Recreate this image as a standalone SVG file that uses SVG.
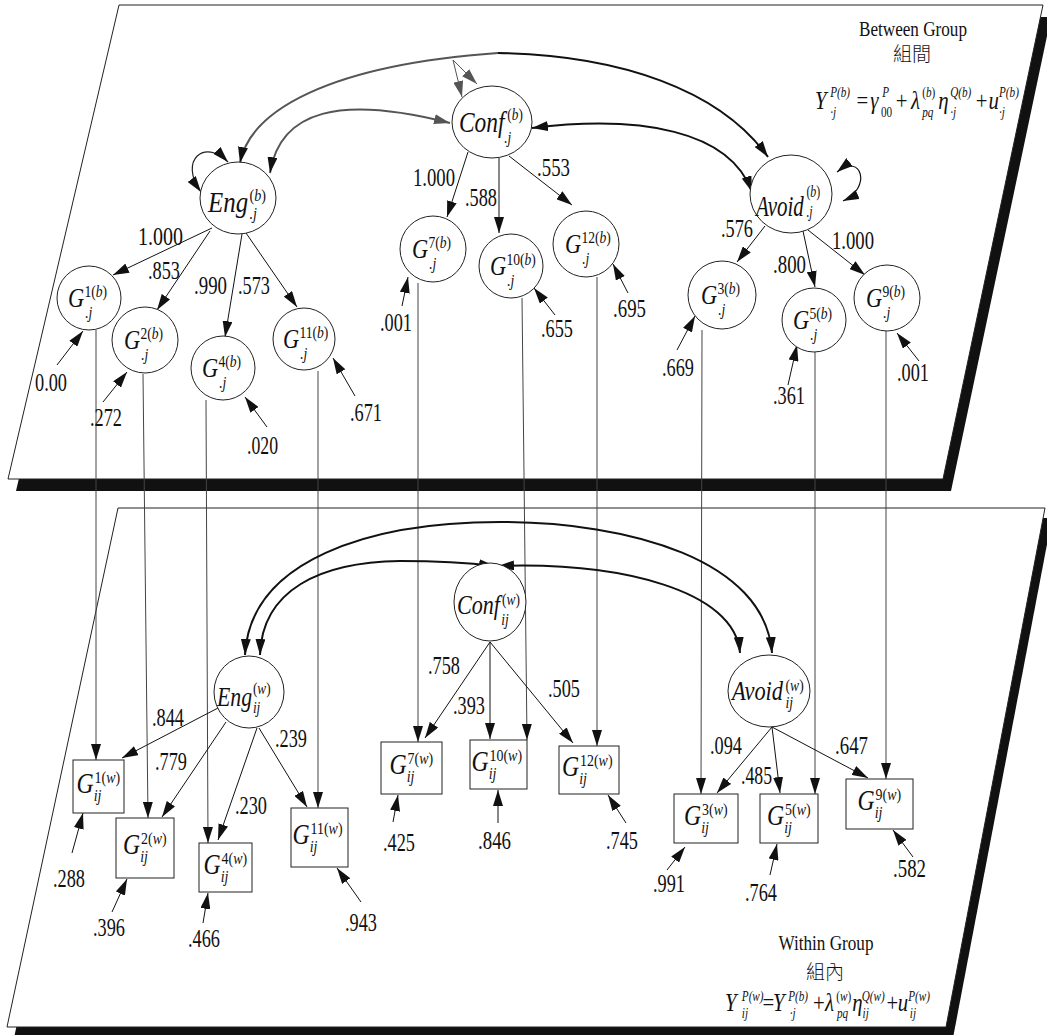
<svg xmlns="http://www.w3.org/2000/svg" width="1047" height="1035" viewBox="0 0 1047 1035">
<defs>
<marker id="ah" viewBox="0 0 16 10" refX="16" refY="5" markerWidth="16" markerHeight="10" markerUnits="userSpaceOnUse" orient="auto-start-reverse"><path d="M0,0 L16,5 L0,10 z" fill="#111"/></marker>
<marker id="ahg" viewBox="0 0 16 10" refX="16" refY="5" markerWidth="16" markerHeight="10" markerUnits="userSpaceOnUse" orient="auto-start-reverse"><path d="M0,0 L16,5 L0,10 z" fill="#555"/></marker>
<style>
.n{fill:#fff;stroke:#222;stroke-width:1}
.l{stroke:#111;stroke-width:1;fill:none;marker-end:url(#ah)}
.v{stroke:#444;stroke-width:1;fill:none;marker-end:url(#ah)}
.c{stroke:#111;stroke-width:2;fill:none;marker-start:url(#ah);marker-end:url(#ah)}
.cg{stroke:#555;stroke-width:2;fill:none}
text{font-family:"Liberation Serif","Times New Roman",serif;fill:#111}
.num{font-size:25px}
.i{font-style:italic}
.b{font-size:30px;font-style:italic}
.bw{font-size:28px;font-style:italic}
.g{font-size:28px;font-style:italic}
.gw{font-size:29px;font-style:italic}
.s{font-size:17px}
.f{font-size:26px}
.fs{font-size:14px}
.cjk{font-family:"Liberation Serif","Noto Sans CJK TC",serif;font-size:19px;font-weight:300}
</style>
</defs>

<g id="panels">
<polygon points="127,17 1051,17 951,491 16,491" fill="#111"/>
<polygon points="119,5 1043,5 943,479 8,479" fill="#fff" stroke="#222" stroke-width="1"/>
<polygon points="125,518 1052,518 953,1038 14,1038" fill="#111"/>
<polygon points="118,508 1045,508 946,1027 7,1027" fill="#fff" stroke="#222" stroke-width="1"/>
</g>

<g id="connectors">
<path class="v" d="M96,330 L96,760"/>
<path class="v" d="M143,374 L148,818"/>
<path class="v" d="M206,400 L208,843"/>
<path class="v" d="M318,371 L318,808"/>
<path class="v" d="M418,283 L418,742"/>
<path class="v" d="M522,298 L527,740"/>
<path class="v" d="M597,277 L597,746"/>
<path class="v" d="M702,330 L701,794"/>
<path class="v" d="M815,352 L815,794"/>
<path class="v" d="M886,331 L886,779"/>
<path class="cg" d="M240,163 C250,110 330,65 498,53" marker-start="url(#ah)"/>
<path class="c" d="M498,53 C620,55 720,90 768,157" style="marker-start:none"/>
<path class="cg" d="M270,173 C280,110 340,95 450,123" marker-start="url(#ah)" marker-end="url(#ahg)"/>
<path class="c" d="M532,128 C640,115 730,130 752,192"/>
<path class="cg" d="M228,162 C205,138 178,160 201,192" marker-start="url(#ah)" marker-end="url(#ah)" style="stroke:#222;stroke-width:1.2"/>
<path class="cg" d="M462,97 L453,60 L477,84" marker-start="url(#ahg)" marker-end="url(#ahg)" style="stroke-width:1"/>
<path class="c" d="M837,172 C862,152 872,188 843,201" style="stroke-width:1.2"/>
<path class="l" d="M212,228 L113,275"/>
<path class="l" d="M210,231 L157,310"/>
<path class="l" d="M242,234 L225,337"/>
<path class="l" d="M246,233 L297,307"/>
<path class="l" d="M468,152 L447,217"/>
<path class="l" d="M499,158 L499,233"/>
<path class="l" d="M509,156 L572,205"/>
<path class="l" d="M765,226 L737,262"/>
<path class="l" d="M803,231 L815,287"/>
<path class="l" d="M808,230 L865,275"/>
<path class="l" d="M57,365 L83,331"/>
<path class="l" d="M103,402 L127,372"/>
<path class="l" d="M267,427 L245,397"/>
<path class="l" d="M355,396 L333,358"/>
<path class="l" d="M402,306 L408,277"/>
<path class="l" d="M555,315 L534,288"/>
<path class="l" d="M628,293 L613,264"/>
<path class="l" d="M677,350 L695,316"/>
<path class="l" d="M788,385 L797,345"/>
<path class="l" d="M919,361 L897,333"/>
<path class="c" d="M245,655 C250,560 370,522 500,522 C630,522 765,560 772,653"/>
<path class="c" d="M260,655 C262,590 320,562 400,561 C440,561 470,563 495,566"/>
<path class="c" d="M498,566 C620,562 735,590 740,653"/>
<path class="l" d="M218,708 L122,758"/>
<path class="l" d="M226,722 L162,817"/>
<path class="l" d="M257,728 L218,840"/>
<path class="l" d="M259,728 L307,807"/>
<path class="l" d="M490,642 L425,738"/>
<path class="l" d="M490,642 L490,739"/>
<path class="l" d="M490,642 L573,743"/>
<path class="l" d="M772,727 L717,793"/>
<path class="l" d="M772,727 L780,793"/>
<path class="l" d="M772,727 L868,778"/>
<path class="l" d="M72,853 L83,813"/>
<path class="l" d="M112,912 L127,879"/>
<path class="l" d="M203,923 L208,893"/>
<path class="l" d="M361,902 L337,868"/>
<path class="l" d="M393,822 L398,795"/>
<path class="l" d="M498,823 L498,790"/>
<path class="l" d="M626,823 L608,795"/>
<path class="l" d="M667,870 L685,847"/>
<path class="l" d="M770,875 L777,844"/>
<path class="l" d="M913,857 L893,830"/>
</g>

<g id="labels">
<text class="num" x="138" y="245" textLength="45" lengthAdjust="spacingAndGlyphs">1.000</text>
<text class="num" x="148" y="279" textLength="32" lengthAdjust="spacingAndGlyphs">.853</text>
<text class="num" x="194" y="294" textLength="33" lengthAdjust="spacingAndGlyphs">.990</text>
<text class="num" x="238" y="294" textLength="32" lengthAdjust="spacingAndGlyphs">.573</text>
<text class="num" x="35" y="391" textLength="32" lengthAdjust="spacingAndGlyphs">0.00</text>
<text class="num" x="90" y="426" textLength="32" lengthAdjust="spacingAndGlyphs">.272</text>
<text class="num" x="247" y="454" textLength="31" lengthAdjust="spacingAndGlyphs">.020</text>
<text class="num" x="350" y="421" textLength="32" lengthAdjust="spacingAndGlyphs">.671</text>
<text class="num" x="413" y="186" textLength="42" lengthAdjust="spacingAndGlyphs">1.000</text>
<text class="num" x="465" y="206" textLength="32" lengthAdjust="spacingAndGlyphs">.588</text>
<text class="num" x="537" y="176" textLength="33" lengthAdjust="spacingAndGlyphs">.553</text>
<text class="num" x="380" y="331" textLength="32" lengthAdjust="spacingAndGlyphs">.001</text>
<text class="num" x="541" y="337" textLength="32" lengthAdjust="spacingAndGlyphs">.655</text>
<text class="num" x="613" y="317" textLength="33" lengthAdjust="spacingAndGlyphs">.695</text>
<text class="num" x="721" y="237" textLength="32" lengthAdjust="spacingAndGlyphs">.576</text>
<text class="num" x="773" y="273" textLength="33" lengthAdjust="spacingAndGlyphs">.800</text>
<text class="num" x="832" y="249" textLength="42" lengthAdjust="spacingAndGlyphs">1.000</text>
<text class="num" x="662" y="376" textLength="32" lengthAdjust="spacingAndGlyphs">.669</text>
<text class="num" x="773" y="404" textLength="32" lengthAdjust="spacingAndGlyphs">.361</text>
<text class="num" x="897" y="381" textLength="32" lengthAdjust="spacingAndGlyphs">.001</text>
<text class="num" x="152" y="726" textLength="32" lengthAdjust="spacingAndGlyphs">.844</text>
<text class="num" x="155" y="770" textLength="32" lengthAdjust="spacingAndGlyphs">.779</text>
<text class="num" x="235" y="814" textLength="32" lengthAdjust="spacingAndGlyphs">.230</text>
<text class="num" x="275" y="747" textLength="32" lengthAdjust="spacingAndGlyphs">.239</text>
<text class="num" x="428" y="674" textLength="32" lengthAdjust="spacingAndGlyphs">.758</text>
<text class="num" x="453" y="714" textLength="32" lengthAdjust="spacingAndGlyphs">.393</text>
<text class="num" x="548" y="697" textLength="32" lengthAdjust="spacingAndGlyphs">.505</text>
<text class="num" x="710" y="754" textLength="32" lengthAdjust="spacingAndGlyphs">.094</text>
<text class="num" x="741" y="784" textLength="31" lengthAdjust="spacingAndGlyphs">.485</text>
<text class="num" x="835" y="754" textLength="33" lengthAdjust="spacingAndGlyphs">.647</text>
<text class="num" x="53" y="887" textLength="32" lengthAdjust="spacingAndGlyphs">.288</text>
<text class="num" x="93" y="936" textLength="32" lengthAdjust="spacingAndGlyphs">.396</text>
<text class="num" x="188" y="947" textLength="32" lengthAdjust="spacingAndGlyphs">.466</text>
<text class="num" x="345" y="931" textLength="32" lengthAdjust="spacingAndGlyphs">.943</text>
<text class="num" x="383" y="851" textLength="32" lengthAdjust="spacingAndGlyphs">.425</text>
<text class="num" x="478" y="849" textLength="33" lengthAdjust="spacingAndGlyphs">.846</text>
<text class="num" x="606" y="849" textLength="32" lengthAdjust="spacingAndGlyphs">.745</text>
<text class="num" x="653" y="892" textLength="32" lengthAdjust="spacingAndGlyphs">.991</text>
<text class="num" x="745" y="901" textLength="32" lengthAdjust="spacingAndGlyphs">.764</text>
<text class="num" x="893" y="877" textLength="33" lengthAdjust="spacingAndGlyphs">.582</text>
</g>

<g id="Eng_b"><ellipse class="n" cx="238" cy="198" rx="38" ry="36"/><text transform="translate(208,212) scale(0.83,1)"><tspan class="b" x="0" y="0">Eng</tspan><tspan class="s" x="50" y="-11">(<tspan class="i">b</tspan>)</tspan><tspan class="s i" x="50" y="7">.j</tspan></text></g>
<g id="Conf_b"><ellipse class="n" cx="492" cy="122" rx="40" ry="36"/><text transform="translate(459,132) scale(0.78,1)" fill="#333"><tspan class="b" x="0" y="0">Conf</tspan><tspan class="s" x="62" y="-12">(<tspan class="i">b</tspan>)</tspan><tspan class="s i" x="58" y="11">.j</tspan></text></g>
<g id="Avoid_b"><ellipse class="n" cx="791" cy="194" rx="41" ry="39"/><text transform="translate(756,216) scale(0.7,1)"><tspan class="b" x="0" y="0">Avoid</tspan><tspan class="s" x="72" y="-19">(<tspan class="i">b</tspan>)</tspan><tspan class="s i" x="72" y="1">.j</tspan></text></g>

<g id="G1b"><circle class="n" cx="89" cy="298" r="32"/><text transform="translate(68,307) scale(0.8,1)"><tspan class="g" x="0" y="0">G</tspan><tspan class="s" x="20.5" y="-10">1(<tspan class="i">b</tspan>)</tspan><tspan class="s i" x="21.5" y="11">.j</tspan></text></g>
<g id="G2b"><circle class="n" cx="145" cy="340" r="33"/><text transform="translate(124,349) scale(0.8,1)"><tspan class="g" x="0" y="0">G</tspan><tspan class="s" x="20.5" y="-10">2(<tspan class="i">b</tspan>)</tspan><tspan class="s i" x="21.5" y="11">.j</tspan></text></g>
<g id="G4b"><circle class="n" cx="223" cy="368" r="32"/><text transform="translate(202,377) scale(0.8,1)"><tspan class="g" x="0" y="0">G</tspan><tspan class="s" x="20.5" y="-10">4(<tspan class="i">b</tspan>)</tspan><tspan class="s i" x="21.5" y="11">.j</tspan></text></g>
<g id="G11b"><circle class="n" cx="304" cy="339" r="31"/><text transform="translate(283,348) scale(0.8,1)"><tspan class="g" x="0" y="0">G</tspan><tspan class="s" x="20.5" y="-10">11(<tspan class="i">b</tspan>)</tspan><tspan class="s i" x="21.5" y="11">.j</tspan></text></g>
<g id="G7b"><circle class="n" cx="433" cy="249" r="33"/><text transform="translate(412,258) scale(0.8,1)"><tspan class="g" x="0" y="0">G</tspan><tspan class="s" x="20.5" y="-10">7(<tspan class="i">b</tspan>)</tspan><tspan class="s i" x="21.5" y="11">.j</tspan></text></g>
<g id="G10b"><circle class="n" cx="511" cy="266" r="32"/><text transform="translate(490,275) scale(0.8,1)"><tspan class="g" x="0" y="0">G</tspan><tspan class="s" x="20.5" y="-10">10(<tspan class="i">b</tspan>)</tspan><tspan class="s i" x="21.5" y="11">.j</tspan></text></g>
<g id="G12b"><circle class="n" cx="586" cy="244" r="33"/><text transform="translate(565,253) scale(0.8,1)"><tspan class="g" x="0" y="0">G</tspan><tspan class="s" x="20.5" y="-10">12(<tspan class="i">b</tspan>)</tspan><tspan class="s i" x="21.5" y="11">.j</tspan></text></g>
<g id="G3b"><circle class="n" cx="722" cy="295" r="34"/><text transform="translate(701,304) scale(0.8,1)"><tspan class="g" x="0" y="0">G</tspan><tspan class="s" x="20.5" y="-10">3(<tspan class="i">b</tspan>)</tspan><tspan class="s i" x="21.5" y="11">.j</tspan></text></g>
<g id="G5b"><circle class="n" cx="814" cy="320" r="32"/><text transform="translate(793,329) scale(0.8,1)"><tspan class="g" x="0" y="0">G</tspan><tspan class="s" x="20.5" y="-10">5(<tspan class="i">b</tspan>)</tspan><tspan class="s i" x="21.5" y="11">.j</tspan></text></g>
<g id="G9b"><circle class="n" cx="887" cy="298" r="33"/><text transform="translate(866,307) scale(0.8,1)"><tspan class="g" x="0" y="0">G</tspan><tspan class="s" x="20.5" y="-10">9(<tspan class="i">b</tspan>)</tspan><tspan class="s i" x="21.5" y="11">.j</tspan></text></g>

<g id="Eng_w"><ellipse class="n" cx="249" cy="692" rx="35" ry="36"/><text transform="translate(217,706) scale(0.78,1)"><tspan class="bw" x="0" y="0">Eng</tspan><tspan class="s" x="46" y="-12">(<tspan class="i">w</tspan>)</tspan><tspan class="s i" x="46" y="7">ij</tspan></text></g>
<g id="Conf_w"><ellipse class="n" cx="490" cy="602" rx="36" ry="39"/><text transform="translate(457,614) scale(0.79,1)"><tspan class="bw" x="0" y="0">Conf</tspan><tspan class="s" x="57" y="-9">(<tspan class="i">w</tspan>)</tspan><tspan class="s i" x="56" y="11">ij</tspan></text></g>
<g id="Avoid_w"><ellipse class="n" cx="769" cy="691" rx="41" ry="36"/><text transform="translate(732,700) scale(0.8,1)"><tspan class="bw" x="0" y="0">Avoid</tspan><tspan class="s" x="67" y="-9">(<tspan class="i">w</tspan>)</tspan><tspan class="s i" x="67" y="8">ij</tspan></text></g>

<g id="G1w"><rect class="n" x="73" y="760" width="51" height="53"/><text transform="translate(76.5,792.5) scale(0.82,1)"><tspan class="gw" x="0" y="0">G</tspan><tspan class="s" x="22" y="-10">1(<tspan class="i">w</tspan>)</tspan><tspan class="s i" x="21" y="8">ij</tspan></text></g>
<g id="G2w"><rect class="n" x="116" y="818" width="58" height="60"/><text transform="translate(123,854) scale(0.82,1)"><tspan class="gw" x="0" y="0">G</tspan><tspan class="s" x="22" y="-10">2(<tspan class="i">w</tspan>)</tspan><tspan class="s i" x="21" y="8">ij</tspan></text></g>
<g id="G4w"><rect class="n" x="199" y="843" width="53" height="49"/><text transform="translate(203.5,873.5) scale(0.82,1)"><tspan class="gw" x="0" y="0">G</tspan><tspan class="s" x="22" y="-10">4(<tspan class="i">w</tspan>)</tspan><tspan class="s i" x="21" y="8">ij</tspan></text></g>
<g id="G11w"><rect class="n" x="291" y="808" width="57" height="59"/><text transform="translate(292.5,843.5) scale(0.82,1)"><tspan class="gw" x="0" y="0">G</tspan><tspan class="s" x="22" y="-10">11(<tspan class="i">w</tspan>)</tspan><tspan class="s i" x="21" y="8">ij</tspan></text></g>
<g id="G7w"><rect class="n" x="381" y="742" width="61" height="52"/><text transform="translate(389.5,774) scale(0.82,1)"><tspan class="gw" x="0" y="0">G</tspan><tspan class="s" x="22" y="-10">7(<tspan class="i">w</tspan>)</tspan><tspan class="s i" x="21" y="8">ij</tspan></text></g>
<g id="G10w"><rect class="n" x="470" y="740" width="57" height="49"/><text transform="translate(471.5,770.5) scale(0.82,1)"><tspan class="gw" x="0" y="0">G</tspan><tspan class="s" x="22" y="-10">10(<tspan class="i">w</tspan>)</tspan><tspan class="s i" x="21" y="8">ij</tspan></text></g>
<g id="G12w"><rect class="n" x="559" y="746" width="60" height="48"/><text transform="translate(562,776) scale(0.82,1)"><tspan class="gw" x="0" y="0">G</tspan><tspan class="s" x="22" y="-10">12(<tspan class="i">w</tspan>)</tspan><tspan class="s i" x="21" y="8">ij</tspan></text></g>
<g id="G3w"><rect class="n" x="674" y="794" width="64" height="49"/><text transform="translate(684,824.5) scale(0.82,1)"><tspan class="gw" x="0" y="0">G</tspan><tspan class="s" x="22" y="-10">3(<tspan class="i">w</tspan>)</tspan><tspan class="s i" x="21" y="8">ij</tspan></text></g>
<g id="G5w"><rect class="n" x="760" y="794" width="58" height="49"/><text transform="translate(767,824.5) scale(0.82,1)"><tspan class="gw" x="0" y="0">G</tspan><tspan class="s" x="22" y="-10">5(<tspan class="i">w</tspan>)</tspan><tspan class="s i" x="21" y="8">ij</tspan></text></g>
<g id="G9w"><rect class="n" x="846" y="779" width="67" height="50"/><text transform="translate(857.5,810) scale(0.82,1)"><tspan class="gw" x="0" y="0">G</tspan><tspan class="s" x="22" y="-10">9(<tspan class="i">w</tspan>)</tspan><tspan class="s i" x="21" y="8">ij</tspan></text></g>

<g id="between_title">
<text x="913" y="36" font-size="20" text-anchor="middle" textLength="108" lengthAdjust="spacingAndGlyphs">Between Group</text>
<text class="cjk" x="912" y="61" text-anchor="middle">組間</text>
<text transform="translate(815,109) scale(0.8,1)"><tspan class="f i" x="0" y="0">Y</tspan><tspan class="fs i" x="19" y="-12">P(b)</tspan><tspan class="fs i" x="19" y="8">·j</tspan><tspan class="f" x="52" y="0">=</tspan><tspan class="f i" x="69" y="0">γ</tspan><tspan class="fs i" x="84" y="-12">P</tspan><tspan class="fs" x="82.5" y="8">00</tspan><tspan class="f" x="101" y="0">+</tspan><tspan class="f i" x="120" y="0">λ</tspan><tspan class="fs" x="134" y="-12">(<tspan class="i">b</tspan>)</tspan><tspan class="fs i" x="134" y="8">pq</tspan><tspan class="f i" x="154" y="0">η</tspan><tspan class="fs i" x="169" y="-12">Q(b)</tspan><tspan class="fs i" x="169" y="8">·j</tspan><tspan class="f" x="201" y="0">+</tspan><tspan class="f i" x="217" y="0">u</tspan><tspan class="fs i" x="230" y="-12">P(b)</tspan><tspan class="fs i" x="230" y="8">·j</tspan></text>
</g>

<g id="within_title">
<text x="826" y="950" font-size="20" text-anchor="middle" textLength="95" lengthAdjust="spacingAndGlyphs">Within Group</text>
<text class="cjk" x="825" y="979" text-anchor="middle">組內</text>
<text transform="translate(725,1011) scale(0.8,1)"><tspan class="f i" x="0" y="0">Y</tspan><tspan class="fs i" x="21" y="-10">P(w)</tspan><tspan class="fs i" x="21" y="7">ij</tspan><tspan class="f" x="47" y="0">=</tspan><tspan class="f i" x="60" y="0">Y</tspan><tspan class="fs i" x="79" y="-10">P(b)</tspan><tspan class="fs i" x="81" y="7">·j</tspan><tspan class="f" x="110" y="0">+</tspan><tspan class="f i" x="125" y="0">λ</tspan><tspan class="fs" x="139" y="-10">(<tspan class="i">w</tspan>)</tspan><tspan class="fs i" x="140" y="7">pq</tspan><tspan class="f i" x="159" y="0">η</tspan><tspan class="fs i" x="171" y="-10">Q(w)</tspan><tspan class="fs i" x="172" y="7">ij</tspan><tspan class="f" x="202" y="0">+</tspan><tspan class="f i" x="216" y="0">u</tspan><tspan class="fs i" x="229" y="-10">P(w)</tspan><tspan class="fs i" x="231" y="7">ij</tspan></text>
</g>
</svg>
